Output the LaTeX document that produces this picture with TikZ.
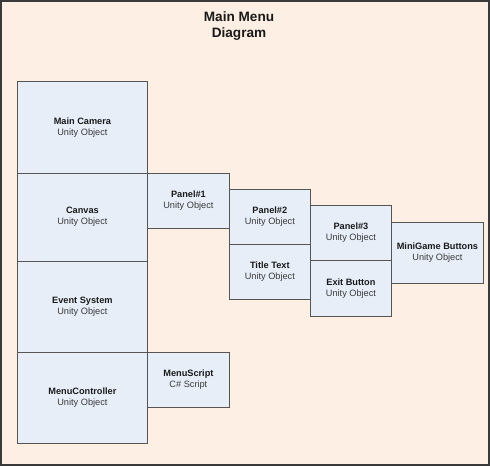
\documentclass[tikz,border=0pt]{standalone}
\usepackage{fontspec}
\setmainfont{Liberation Sans}
\definecolor{bgpeach}{HTML}{FDEFE3}
\definecolor{boxblue}{HTML}{E7EEF8}
\definecolor{boxline}{HTML}{555555}
\definecolor{frameline}{HTML}{3A3A3A}
\definecolor{txtdark}{HTML}{1A1A1A}
\definecolor{txtgray}{HTML}{3A3A3A}
\begin{document}
\begin{tikzpicture}[x=1pt,y=-1pt,
  objbox/.style={draw=boxline, fill=boxblue, line width=0.9pt, anchor=north west,
    inner sep=0pt, align=center, font=\fontsize{9.2}{11}\selectfont, text=txtgray},
  titletext/.style={align=center, font=\fontsize{13.6}{16}\selectfont\bfseries, text=txtdark}]
\useasboundingbox (0,0) rectangle (490,466);
\fill[bgpeach] (0,0) rectangle (490,466);
\draw[frameline, line width=2pt] (1,1) rectangle (489,465);
\node[titletext] (title) at (239,26.5) {Main Menu\\Diagram};
\newcommand{\lbl}[2]{{\color{txtdark}\bfseries #1}\\#2}
\node[objbox, minimum width=130.5, minimum height=91.4] (cam) at (16.7,81.3) {\lbl{Main Camera}{Unity Object}};
\node[objbox, minimum width=130.5, minimum height=88] (canvas) at (16.7,172.7) {\lbl{Canvas}{Unity Object}};
\node[objbox, minimum width=130.5, minimum height=91] (evsys) at (16.7,260.7) {\lbl{Event System}{Unity Object}};
\node[objbox, minimum width=130.5, minimum height=91] (menuctl) at (16.7,351.7) {\lbl{MenuController}{Unity Object}};
\node[objbox, minimum width=81.5, minimum height=55] (panel1) at (147.2,172.7) {\lbl{Panel\#1}{Unity Object}};
\node[objbox, minimum width=81.5, minimum height=55] (menuscript) at (147.2,351.7) {\lbl{MenuScript}{C\# Script}};
\node[objbox, minimum width=81.3, minimum height=55] (panel2) at (228.7,189) {\lbl{Panel\#2}{Unity Object}};
\node[objbox, minimum width=81.3, minimum height=55] (titlet) at (228.7,244) {\lbl{Title Text}{Unity Object}};
\node[objbox, minimum width=81, minimum height=55] (panel3) at (310,205) {\lbl{Panel\#3}{Unity Object}};
\node[objbox, minimum width=81, minimum height=55.7] (exitb) at (310,260) {\lbl{Exit Button}{Unity Object}};
\node[objbox, minimum width=92, minimum height=61] (minigame) at (391,221.7) {\lbl{MiniGame Buttons}{Unity Object}};
\end{tikzpicture}
\end{document}
